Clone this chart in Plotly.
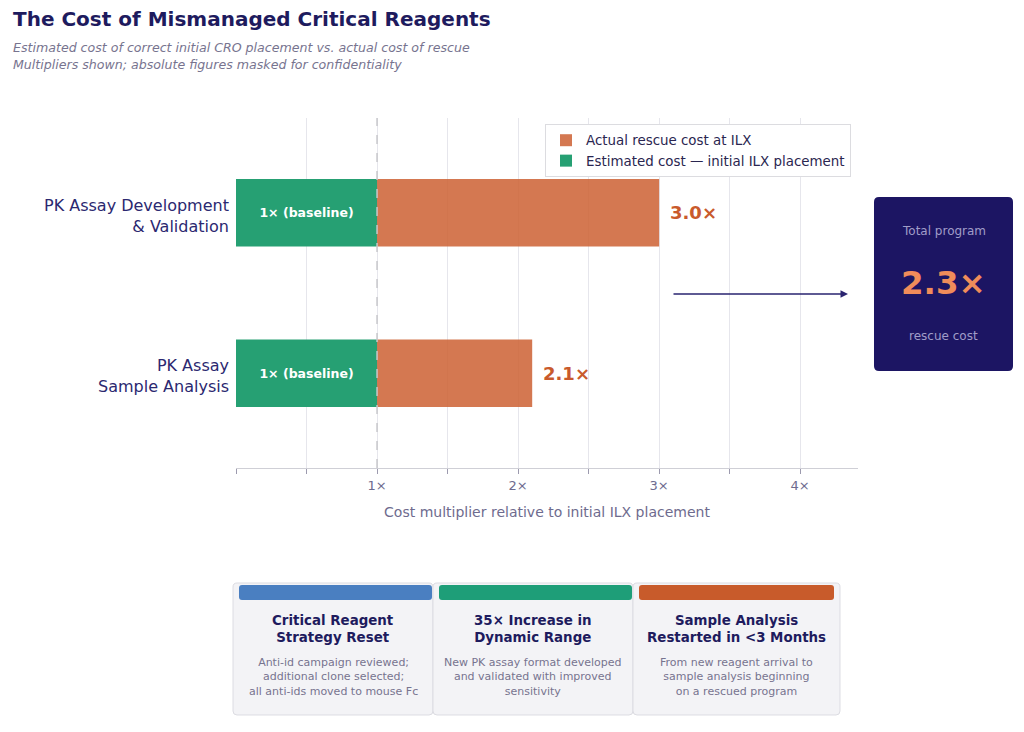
import plotly.graph_objects as go

# ---------------- data ----------------
categories = ["PK Assay Development<br>& Validation", "PK Assay<br>Sample Analysis"]
baseline_values = [1.0, 1.0]
rescue_totals = [3.0, 2.1]
baseline_label = "1× (baseline)"
series_names = ["Actual rescue cost at ILX", "Estimated cost — initial ILX placement"]
x_tick_vals = [0, 0.5, 1, 1.5, 2, 2.5, 3, 3.5, 4]
x_tick_text = ["", "", "1×", "", "2×", "", "3×", "", "4×"]
total_program = 2.3
card_titles = ["Critical Reagent<br>Strategy Reset",
               "35× Increase in<br>Dynamic Range",
               "Sample Analysis<br>Restarted in <3 Months"]
card_bodies = ["Anti-id campaign reviewed;<br>additional clone selected;<br>all anti-ids moved to mouse Fc",
               "New PK assay format developed<br>and validated with improved<br>sensitivity",
               "From new reagent arrival to<br>sample analysis beginning<br>on a rescued program"]
card_colors = ["#4A7FC1", "#1E9E78", "#C85B2B"]

# ---------------- layout geometry ----------------
W, H = 1024, 732
L, R, T, B = 236, 166, 118, 264
PW, PH = W - L - R, H - T - B

def px(x):
    return (x - L) / PW

def py(y):
    return (H - B - y) / PH

def rrect(x0, y0, x1, y1, r):
    def p(x, y):
        return f"{px(x):.5f},{py(y):.5f}"
    s = f"M {p(x0 + r, y0)} L {p(x1 - r, y0)} Q {p(x1, y0)} {p(x1, y0 + r)} "
    s += f"L {p(x1, y1 - r)} Q {p(x1, y1)} {p(x1 - r, y1)} L {p(x0 + r, y1)} Q {p(x0, y1)} {p(x0, y1 - r)} "
    s += f"L {p(x0, y0 + r)} Q {p(x0, y0)} {p(x0 + r, y0)} Z"
    return s

NAVY = "#1E1B5E"
GRAY = "#77748F"
ORANGE_BAR = "rgba(204,96,50,0.85)"
GREEN = "#26A073"
LABEL_ORANGE = "#C95A2C"
FONT = "DejaVu Sans"

fig = go.Figure()

fig.add_trace(go.Bar(
    y=categories,
    x=[t - b for t, b in zip(rescue_totals, baseline_values)],
    base=baseline_values,
    orientation="h",
    name=series_names[0],
    marker=dict(color=ORANGE_BAR, line=dict(width=0)),
    width=0.42,
    hoverinfo="skip",
))
fig.add_trace(go.Bar(
    y=categories,
    x=baseline_values,
    base=[0, 0],
    orientation="h",
    name=series_names[1],
    marker=dict(color=GREEN, line=dict(width=0)),
    width=0.42,
    text=[baseline_label] * len(categories),
    textposition="inside",
    insidetextanchor="middle",
    textfont=dict(color="white", size=12.5, family=FONT, weight="bold"),
    hoverinfo="skip",
))

annotations = []
shapes = []

for cat, tot in zip(categories, rescue_totals):
    annotations.append(dict(
        x=tot, y=cat, xref="x", yref="y", text=f"<b>{tot:.1f}×</b>",
        showarrow=False, xanchor="left", xshift=9,
        font=dict(size=18, color=LABEL_ORANGE, family=FONT),
    ))
    # category labels (placed like the reference's tick labels)
    annotations.append(dict(
        x=0, y=cat, xref="paper", yref="y", text=cat, showarrow=False,
        xanchor="right", yanchor="middle", align="right", xshift=-5, yshift=-3,
        font=dict(size=16, color="#2B2870", family=FONT),
    ))

shapes.append(dict(type="line", xref="x", yref="paper", x0=1, x1=1, y0=0, y1=1,
                   line=dict(color="#C8C8CC", width=1.5, dash="dash"), layer="above"))

def text_ann(x, y, text, size, color, xanchor="center"):
    return dict(x=px(x), y=py(y), xref="paper", yref="paper", xanchor=xanchor, yanchor="middle",
                text=text, showarrow=False, font=dict(size=size, color=color, family=FONT))

annotations.append(text_ann(11, 19, "<b>The Cost of Mismanaged Critical Reagents</b>", 20, NAVY, "left"))
annotations.append(text_ann(11, 47, "<i>Estimated cost of correct initial CRO placement vs. actual cost of rescue</i>",
                            12.6, GRAY, "left"))
annotations.append(text_ann(11, 65, "<i>Multipliers shown; absolute figures masked for confidentiality</i>",
                            12.6, GRAY, "left"))

annotations.append(dict(x=px(848), y=py(294), xref="paper", yref="paper", ax=-176, ay=0,
                        axref="pixel", ayref="pixel", text="", showarrow=True,
                        arrowhead=2, arrowsize=1, arrowwidth=1.5, arrowcolor="#2A2470"))

shapes.append(dict(type="path", xref="paper", yref="paper", path=rrect(874, 197, 1013, 371, 5),
                   fillcolor="#1C1563", line=dict(width=0), layer="above"))
annotations.append(text_ann(943.5, 231, "Total program", 12, "#A09DC8"))
annotations.append(text_ann(943.5, 283, f"<b>{total_program:.1f}×</b>", 32.5, "#F08C5A"))
annotations.append(text_ann(943.5, 336, "rescue cost", 12, "#A09DC8"))

card_x = [(233, 433), (433, 633), (633, 840)]
strip_x = [(239, 432), (439, 632), (639, 834)]
for i, ((cx0, cx1), (sx0, sx1)) in enumerate(zip(card_x, strip_x)):
    shapes.append(dict(type="path", xref="paper", yref="paper", path=rrect(cx0, 583, cx1, 715, 4),
                       fillcolor="#F3F3F6", line=dict(color="#DCDCE2", width=1), layer="above"))
    shapes.append(dict(type="path", xref="paper", yref="paper", path=rrect(sx0, 585, sx1, 600, 3),
                       fillcolor=card_colors[i], line=dict(width=0), layer="above"))
    cx = (cx0 + cx1) / 2
    annotations.append(text_ann(cx, 628.5, f"<b>{card_titles[i]}</b>", 13.4, NAVY))
    annotations.append(text_ann(cx, 677, card_bodies[i], 11, GRAY))

fig.update_layout(
    width=W, height=H,
    margin=dict(l=L, r=R, t=T, b=B, autoexpand=False),
    paper_bgcolor="white", plot_bgcolor="white",
    barmode="overlay",
    font=dict(family=FONT, color=NAVY),
    showlegend=True,
    legend=dict(x=px(851), y=py(124), xanchor="right", yanchor="top",
                bgcolor="white", bordercolor="#DCDCE0", borderwidth=1,
                font=dict(size=13.4, color="#2A2650"), traceorder="normal"),
    xaxis=dict(range=[0, 4.41], tickvals=x_tick_vals, ticktext=x_tick_text,
               showgrid=True, gridcolor="#E6E6EC", gridwidth=1, zeroline=False,
               showline=True, linecolor="#CFCFD6", linewidth=1,
               ticks="outside", ticklen=5, tickcolor="#9C9AAE",
               tickfont=dict(size=13, color="#6E6B8E"),
               title=dict(text="Cost multiplier relative to initial ILX placement",
                          font=dict(size=14, color="#6E6B8E"), standoff=15)),
    yaxis=dict(categoryorder="array", categoryarray=categories[::-1],
               range=[-0.59, 1.59], showgrid=False, zeroline=False, showline=False,
               ticks="", showticklabels=False),
    annotations=annotations,
    shapes=shapes,
)

fig.write_html("out.html", config={"displayModeBar": False},
               post_script="document.body.style.margin='0';document.body.style.overflow='hidden';")
